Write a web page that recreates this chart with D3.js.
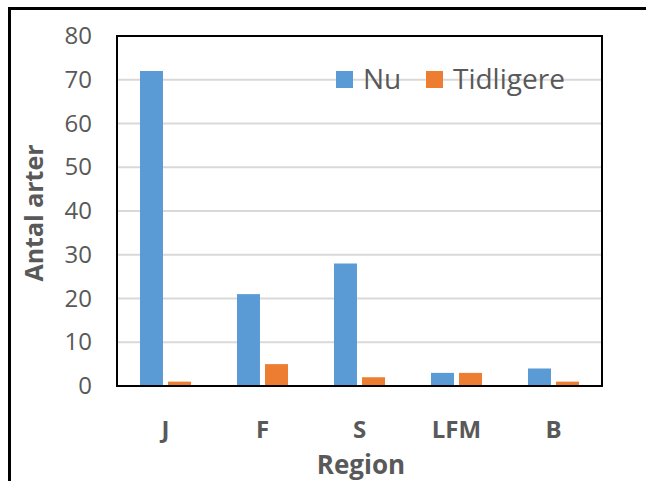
<!DOCTYPE html>
<html>
  <head>
    <style>
      html,
      body {
        margin: 0;
        padding: 0;
        background: #fff;
      }
      svg {
        display: block;
        font-family: "Open Sans", sans-serif;
      }
    </style>
  </head>
  <body>
    <div id="chart"></div>
    <script src="https://d3js.org/d3.v7.min.js"></script>
    <script>
      // data
      const regions = ["J", "F", "S", "LFM", "B"];
      const seriesNames = ["Nu", "Tidligere"];
      const nu = [72, 21, 28, 3, 4];
      const tidligere = [1, 5, 2, 3, 1];
      const yTicks = [0, 10, 20, 30, 40, 50, 60, 70, 80];

      const colors = ["#5b9bd5", "#ed7d31"];
      const textColor = "#595959";

      const width = 646;
      const height = 481;
      const plot = { left: 117, right: 602, top: 36, bottom: 386 };

      const svg = d3
        .select("#chart")
        .append("svg")
        .attr("width", width)
        .attr("height", height);

      svg.append("rect").attr("width", width).attr("height", height).attr("fill", "#fff");

      // outer frame (left + top only)
      svg
        .append("path")
        .attr("d", "M9.5," + height + "V8.5H" + width)
        .attr("fill", "none")
        .attr("stroke", "#000")
        .attr("stroke-width", 3);

      const y = d3.scaleLinear().domain([0, 80]).range([plot.bottom, plot.top]);

      const x0 = d3
        .scaleBand()
        .domain(regions)
        .range([plot.left, plot.right])
        .paddingInner(0.474)
        .paddingOuter(0.237);

      const x1 = d3
        .scaleBand()
        .domain(seriesNames)
        .range([0, x0.bandwidth()])
        .paddingInner(0.18);

      // gridlines
      svg
        .append("g")
        .selectAll("line")
        .data(yTicks.slice(1, -1))
        .join("line")
        .attr("x1", plot.left)
        .attr("x2", plot.right)
        .attr("y1", (d) => y(d))
        .attr("y2", (d) => y(d))
        .attr("stroke", "#d9d9d9")
        .attr("stroke-width", 2);

      // y axis labels
      const yAxis = svg
        .append("g")
        .attr("transform", "translate(" + plot.left + ",0)")
        .call(d3.axisLeft(y).tickValues(yTicks).tickSize(0).tickPadding(25));
      yAxis.select(".domain").remove();
      yAxis
        .selectAll("text")
        .attr("fill", textColor)
        .style("font-family", "'Open Sans', sans-serif")
        .style("font-size", "24px");

      // bars
      const rows = regions.map((r, i) => ({ region: r, values: [nu[i], tidligere[i]] }));
      svg
        .append("g")
        .selectAll("g")
        .data(rows)
        .join("g")
        .attr("transform", (d) => "translate(" + x0(d.region) + ",0)")
        .selectAll("rect")
        .data((d) => d.values.map((v, i) => ({ name: seriesNames[i], value: v, i: i })))
        .join("rect")
        .attr("x", (d) => x1(d.name))
        .attr("width", x1.bandwidth())
        .attr("y", (d) => y(d.value))
        .attr("height", (d) => y(0) - y(d.value))
        .attr("fill", (d) => colors[d.i]);

      // plot area border
      svg
        .append("rect")
        .attr("x", plot.left)
        .attr("y", plot.top)
        .attr("width", plot.right - plot.left)
        .attr("height", plot.bottom - plot.top)
        .attr("fill", "none")
        .attr("stroke", "#000")
        .attr("stroke-width", 2);

      // category labels
      svg
        .append("g")
        .selectAll("text")
        .data(regions)
        .join("text")
        .attr("x", (d) => x0(d) + x0.bandwidth() / 2)
        .attr("y", 438)
        .attr("text-anchor", "middle")
        .attr("fill", textColor)
        .attr("font-weight", "bold")
        .attr("font-size", 24)
        .text((d) => d);

      // axis titles
      svg
        .append("text")
        .attr("x", 361)
        .attr("y", 474)
        .attr("text-anchor", "middle")
        .attr("fill", textColor)
        .attr("font-weight", "bold")
        .attr("font-size", 26)
        .text("Region");

      svg
        .append("text")
        .attr("transform", "translate(43,213) rotate(-90)")
        .attr("text-anchor", "middle")
        .attr("fill", textColor)
        .attr("font-weight", "bold")
        .attr("font-size", 25)
        .text("Antal arter");

      // legend
      const legendX = [336, 426];
      const legend = svg
        .append("g")
        .selectAll("g")
        .data(seriesNames)
        .join("g")
        .attr("transform", (d, i) => "translate(" + legendX[i] + ",71)");
      legend
        .append("rect")
        .attr("width", 17)
        .attr("height", 17)
        .attr("fill", (d, i) => colors[i]);
      legend
        .append("text")
        .attr("x", 27)
        .attr("y", 18)
        .attr("fill", textColor)
        .attr("font-size", 28)
        .text((d) => d);
    </script>
  </body>
</html>
